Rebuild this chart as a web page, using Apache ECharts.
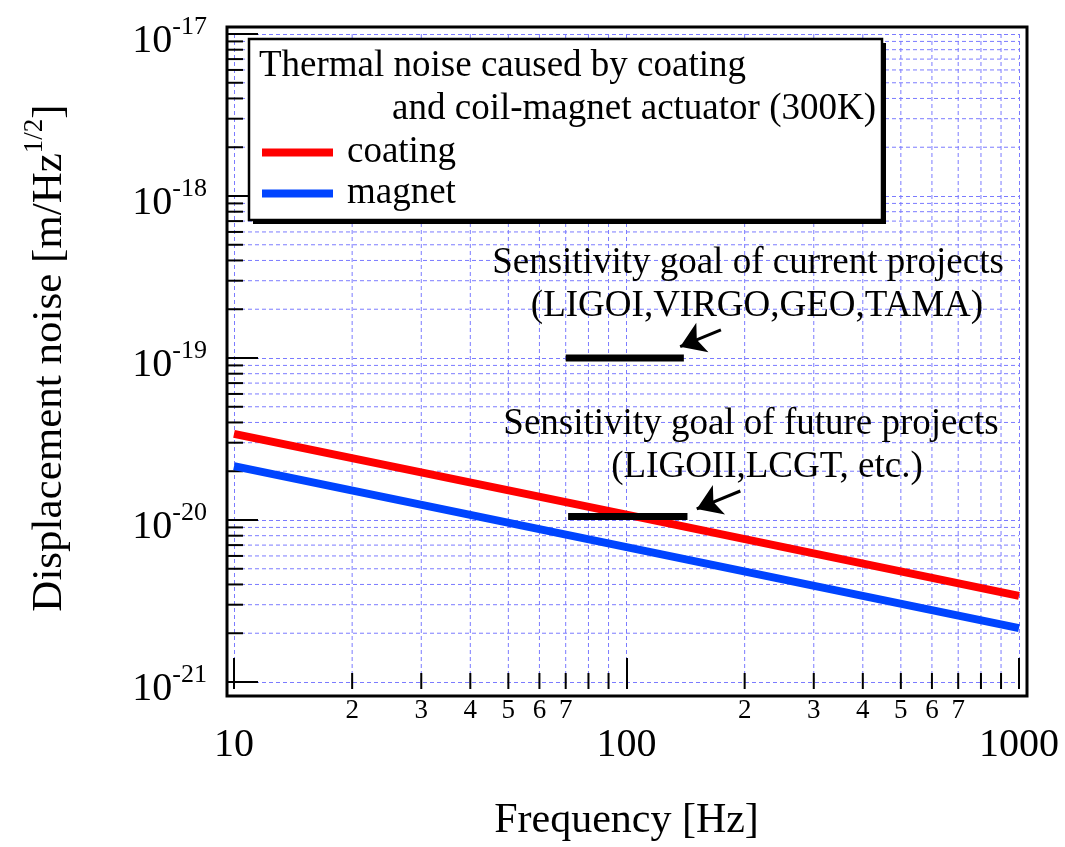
<!DOCTYPE html>
<html><head><meta charset="utf-8">
<script src="https://cdn.jsdelivr.net/npm/echarts@6/dist/echarts.min.js"></script>
<style>html,body{margin:0;padding:0;background:#fff}#c{width:1065px;height:847px}</style>
</head><body><div id="c"></div>
<script>
// ---- data ----
const frequency = [10, 100, 1000];                 // Hz
const coatingNoise = [3.4e-20, 1.08e-20, 3.4e-21]; // m/Hz^1/2
const magnetNoise = [2.15e-20, 6.8e-21, 2.15e-21];
const currentGoalFreq = [70, 140];
const currentGoalLevel = 1e-19;
const futureGoalFreq = [71, 143];
const futureGoalLevel = 1.05e-20;
const currentArrow = [[174, 1.49e-19], [137, 1.175e-19]];   // [tail, head]
const futureArrow = [[195, 1.51e-20], [151, 1.17e-20]];
const xRange = [10, 1000];
const yRange = [1e-21, 1e-17];
const xMinorTicks = [20, 30, 40, 50, 60, 70, 80, 90, 200, 300, 400, 500, 600, 700, 800, 900];
const xMinorLabels = ['2', '3', '4', '5', '6', '7', '', '', '2', '3', '4', '5', '6', '7', '', ''];
const yDecades = [1e-21, 1e-20, 1e-19, 1e-18];
const yMinorMultipliers = [2, 3, 4, 5, 6, 7, 8, 9];
const legendTitle = ['Thermal noise caused by coating', 'and coil-magnet actuator (300K)'];
const currentGoalText = ['Sensitivity goal of current projects', '(LIGOI,VIRGO,GEO,TAMA)'];
const futureGoalText = ['Sensitivity goal of future projects', '(LIGOII,LCGT, etc.)'];
const xTitle = 'Frequency [Hz]';
const yTitle = ['Displacement noise [m/Hz', '1/2', ']'];

// values are plotted in units of 1e-21 so the log scale stays numerically stable
const Y_UNIT = 1e-21, Y_EXP = -21;
const s = v => +(v / Y_UNIT).toPrecision(12);
const F = 'Liberation Serif';
const GRID = '#7b7bff';
const TXT = 37;
const yMin = s(yRange[0]), yMax = s(yRange[1]);

const yMinorTicks = [];
yDecades.forEach(d => yMinorMultipliers.forEach(m => yMinorTicks.push(s(d) * m)));

const gridLine = {stroke: GRID, lineWidth: 1, lineDash: [4, 3]};
const txt = (t, x, y, align) => ({type: 'text', z: 12, silent: true, x, y,
  style: {text: t, fontSize: TXT, fontFamily: F, fill: '#000', align, verticalAlign: 'middle'}});

const chart = echarts.init(document.getElementById('c'), null, {renderer: 'canvas'});
chart.setOption({
  animation: false,
  backgroundColor: '#fff',
  grid: {left: 234, top: 34, width: 785, height: 655, containLabel: false},
  xAxis: {
    type: 'log', logBase: 10, min: xRange[0], max: xRange[1], offset: 7,
    axisLine: {show: false},
    axisTick: {show: true, inside: true, length: 31, lineStyle: {color: '#000', width: 2}},
    axisLabel: {margin: 36, fontSize: 40, fontFamily: F, color: '#000', formatter: v => String(Math.round(v))},
    splitLine: {show: true, lineStyle: {color: GRID, width: 1, type: [4, 3]}},
    name: xTitle, nameLocation: 'middle', nameGap: 111,
    nameTextStyle: {fontSize: 42, fontFamily: F, color: '#000'}
  },
  yAxis: {
    type: 'log', logBase: 10, min: yMin, max: yMax, offset: 7,
    axisLine: {show: false},
    axisTick: {show: true, inside: true, length: 31, lineStyle: {color: '#000', width: 2}},
    axisLabel: {
      margin: 20,
      formatter: v => '{b|10}{s|' + (Math.round(Math.log10(v)) + Y_EXP) + '}',
      rich: {
        b: {fontSize: 40, fontFamily: F, color: '#000', lineHeight: 40, padding: [14, 0, 0, 0]},
        s: {fontSize: 26, fontFamily: F, color: '#000', lineHeight: 26, verticalAlign: 'top'}
      }
    },
    splitLine: {show: true, lineStyle: {color: GRID, width: 1, type: [4, 3]}},
    name: '{a|' + yTitle[0] + '}{s|' + yTitle[1] + '}{a|' + yTitle[2] + '}',
    nameLocation: 'middle', nameRotate: 90, nameGap: 163,
    nameTextStyle: {
      rich: {
        a: {fontSize: 43, fontFamily: F, color: '#000', lineHeight: 43, padding: [14, 0, 0, 0]},
        s: {fontSize: 27, fontFamily: F, color: '#000', lineHeight: 27, verticalAlign: 'top'}
      }
    }
  },
  legend: {
    data: ['coating', 'magnet'], orient: 'vertical', left: 262, top: 132, padding: 0,
    itemWidth: 71, itemHeight: 8, itemGap: 0, icon: 'rect', selectedMode: false, z: 13,
    textStyle: {fontSize: TXT, fontFamily: F, color: '#000', lineHeight: 41, padding: [0, 0, 0, 9]}
  },
  graphic: [
    {type: 'rect', z: 10, silent: true, shape: {x: 227, y: 27, width: 800, height: 669},
      style: {fill: 'none', stroke: '#000', lineWidth: 3}},
    {type: 'rect', z: 10, silent: true, shape: {x: 253, y: 43, width: 633, height: 181},
      style: {fill: '#000'}},
    {type: 'rect', z: 11, silent: true, shape: {x: 249, y: 39, width: 633, height: 181},
      style: {fill: '#fff', stroke: '#000', lineWidth: 2.5}},
    txt(legendTitle[0], 259, 66, 'left'),
    txt(legendTitle[1], 876, 109, 'right'),
    txt(currentGoalText[0], 748, 263, 'center'),
    txt(currentGoalText[1], 757, 306, 'center'),
    txt(futureGoalText[0], 751, 424, 'center'),
    txt(futureGoalText[1], 767, 467, 'center')
  ],
  series: [
    {
      type: 'custom', name: 'xMinor', silent: true, clip: false, z: 1,
      data: xMinorTicks.map(v => [v, yMin]), encode: {x: 0, y: 1},
      renderItem: (params, api) => {
        const v = api.value(0);
        const b = api.coord([v, yMin]), t = api.coord([v, yMax]);
        const children = [
          {type: 'line', shape: {x1: b[0], y1: t[1], x2: b[0], y2: b[1]}, style: gridLine},
          {type: 'line', shape: {x1: b[0], y1: b[1] + 7, x2: b[0], y2: b[1] + 7 - 16}, style: {stroke: '#000', lineWidth: 2}}
        ];
        const lab = xMinorLabels[params.dataIndex];
        if (lab) children.push({type: 'text', x: b[0], y: b[1] + 29,
          style: {text: lab, fontSize: 27, fontFamily: F, fill: '#000', align: 'center', verticalAlign: 'middle'}});
        return {type: 'group', children};
      }
    },
    {
      type: 'custom', name: 'yMinor', silent: true, clip: false, z: 1,
      data: yMinorTicks.map(v => [xRange[0], v]), encode: {x: 0, y: 1},
      renderItem: (params, api) => {
        const v = api.value(1);
        const l = api.coord([xRange[0], v]), r = api.coord([xRange[1], v]);
        return {type: 'group', children: [
          {type: 'line', shape: {x1: l[0], y1: l[1], x2: r[0], y2: l[1]}, style: gridLine},
          {type: 'line', shape: {x1: l[0] - 7, y1: l[1], x2: l[0] - 7 + 16, y2: l[1]}, style: {stroke: '#000', lineWidth: 2}}
        ]};
      }
    },
    {
      name: 'coating', type: 'line', symbol: 'none', z: 3,
      data: frequency.map((f, i) => [f, s(coatingNoise[i])]),
      lineStyle: {color: '#ff0000', width: 8}, itemStyle: {color: '#ff0000'}
    },
    {
      name: 'magnet', type: 'line', symbol: 'none', z: 3,
      data: frequency.map((f, i) => [f, s(magnetNoise[i])]),
      lineStyle: {color: '#0044ff', width: 8}, itemStyle: {color: '#0044ff'}
    },
    {
      name: 'currentGoal', type: 'line', symbol: 'none', z: 4,
      data: currentGoalFreq.map(f => [f, s(currentGoalLevel)]),
      lineStyle: {color: '#000', width: 7, cap: 'butt'},
      markLine: {
        silent: true, symbol: ['none', 'arrow'], symbolSize: 24,
        label: {show: false}, lineStyle: {color: '#000', width: 3, type: 'solid'},
        data: [[{coord: [currentArrow[0][0], s(currentArrow[0][1])]}, {coord: [currentArrow[1][0], s(currentArrow[1][1])]}]]
      }
    },
    {
      name: 'futureGoal', type: 'line', symbol: 'none', z: 4,
      data: futureGoalFreq.map(f => [f, s(futureGoalLevel)]),
      lineStyle: {color: '#000', width: 7, cap: 'butt'},
      markLine: {
        silent: true, symbol: ['none', 'arrow'], symbolSize: 24,
        label: {show: false}, lineStyle: {color: '#000', width: 3, type: 'solid'},
        data: [[{coord: [futureArrow[0][0], s(futureArrow[0][1])]}, {coord: [futureArrow[1][0], s(futureArrow[1][1])]}]]
      }
    }
  ]
});
</script></body></html>
